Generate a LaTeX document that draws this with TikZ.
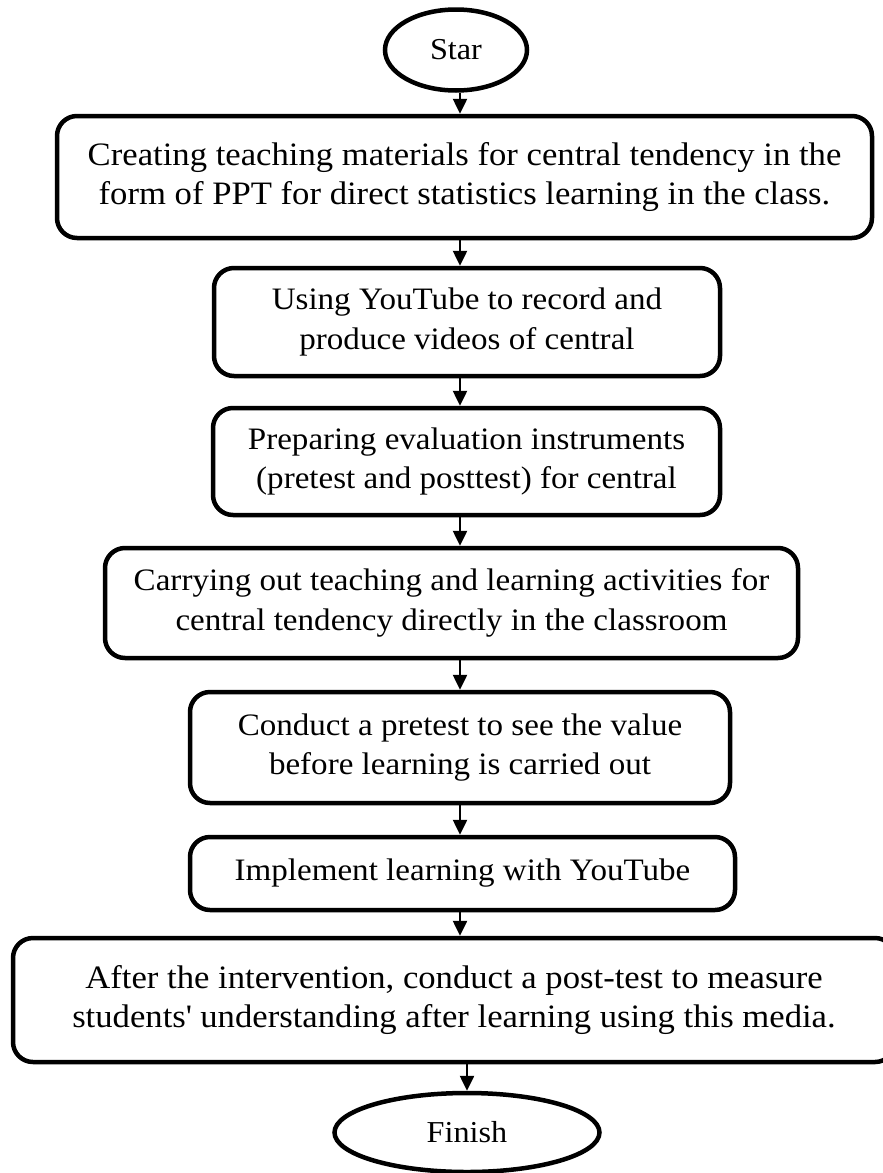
\documentclass[tikz,border=0pt]{standalone}
\usepackage{fontspec}
\setmainfont[FakeStretch=1.06]{Liberation Serif}
\usepackage{tikz}
\usetikzlibrary{shapes.geometric,arrows.meta}
\tikzset{
  stepbox/.style={draw, rounded corners=20pt, line width=4.5pt, align=center,
                  inner sep=0pt, font=\fontsize{31.2}{39.5}\selectfont},
  bigbox/.style={stepbox, font=\fontsize{32.7}{39.5}\selectfont},
  term/.style={draw, ellipse, line width=4.5pt, inner sep=0pt,
               font=\fontsize{30.4}{33}\selectfont},
  arr/.style={-{Triangle[width=14pt,length=15pt]}, line width=2.5pt},
}

\begin{document}
\begin{tikzpicture}[x=1pt,y=1pt]
    \useasboundingbox (0,0) rectangle (883,-1173);
    \coordinate (axis) at (460,0);
    \node[term, minimum width=142pt, minimum height=81pt] (start) at (456,-50) {Star};
    \node[bigbox, minimum width=815pt, minimum height=122pt] (s1) at (464.5,-177)
      {Creating teaching materials for central tendency in the\\form of PPT for direct statistics learning in the class.};
    \node[stepbox, minimum width=506pt, minimum height=108pt] (s2) at (467,-322)
      {Using YouTube to record and\\produce videos of central};
    \node[stepbox, minimum width=507pt, minimum height=107pt] (s3) at (466.5,-461.5)
      {Preparing evaluation instruments\\(pretest and posttest) for central};
    \node[stepbox, minimum width=693pt, minimum height=110pt] (s4) at (451.5,-603)
      {Carrying out teaching and learning activities for\\central tendency directly in the classroom};
    \node[stepbox, minimum width=540pt, minimum height=111pt] (s5) at (460,-747.5)
      {Conduct a pretest to see the value\\before learning is carried out};
    \node[stepbox, minimum width=545pt, minimum height=73pt] (s6) at (462.5,-873.5)
      {Implement learning with YouTube};
    \node[bigbox, minimum width=882pt, minimum height=124pt] (s7) at (454,-1000)
      {After the intervention, conduct a post-test to measure\\students\textquotesingle{} understanding after learning using this media.};
    \node[term, minimum width=265pt, minimum height=79pt] (finish) at (467,-1132.5) {Finish};
    % connectors
    \draw[arr] (start.south -| axis) -- (s1.north -| axis);
    \draw[arr] (s1.south -| axis) -- (s2.north -| axis);
    \draw[arr] (s2.south -| axis) -- (s3.north -| axis);
    \draw[arr] (s3.south -| axis) -- (s4.north -| axis);
    \draw[arr] (s4.south -| axis) -- (s5.north -| axis);
    \draw[arr] (s5.south -| axis) -- (s6.north -| axis);
    \draw[arr] (s6.south -| axis) -- (s7.north -| axis);
    \draw[arr] (s7.south -| finish) -- (finish.north);
\end{tikzpicture}
\end{document}
